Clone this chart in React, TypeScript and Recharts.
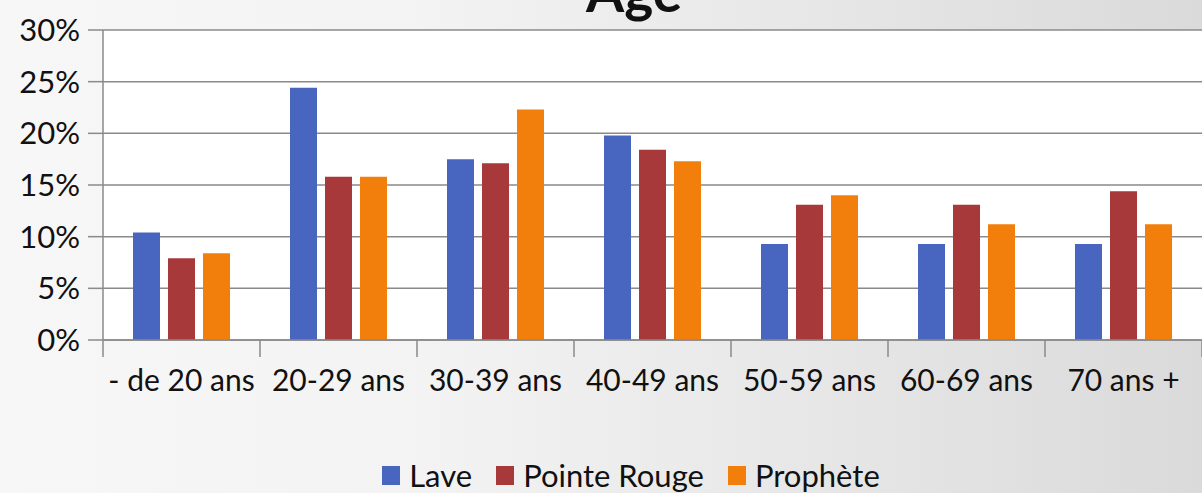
import React from 'react';
import { BarChart, Bar, XAxis, YAxis, CartesianGrid, Legend } from 'recharts';

const categories = ['- de 20 ans', '20-29 ans', '30-39 ans', '40-49 ans', '50-59 ans', '60-69 ans', '70 ans +'];
const lave = [10.4, 24.4, 17.5, 19.8, 9.3, 9.3, 9.3];
const pointeRouge = [7.9, 15.8, 17.1, 18.4, 13.1, 13.1, 14.4];
const prophete = [8.4, 15.8, 22.3, 17.3, 14.0, 11.2, 11.2];
const yTicks = [0, 5, 10, 15, 20, 25, 30];
const seriesNames = ['Lave', 'Pointe Rouge', 'Prophète'];

const data = categories.map((c, i) => ({
  cat: c,
  lave: lave[i],
  pointeRouge: pointeRouge[i],
  prophete: prophete[i],
}));

const FONT = 'Lato, "Noto Sans", sans-serif';
const AXIS = '#8a8a8a';

const XTick = (props: any) => {
  const { x, y, payload, index, visibleTicksCount, width } = props;
  const count = visibleTicksCount || categories.length;
  const bw = width && count ? width / count : 157;
  return (
    <g>
      <line x1={x - bw / 2} y1={y} x2={x - bw / 2} y2={y + 17} stroke={AXIS} strokeWidth={1.5} />
      {index === count - 1 && (
        <line x1={x + bw / 2} y1={y} x2={x + bw / 2} y2={y + 17} stroke={AXIS} strokeWidth={1.5} />
      )}
      <text x={x} y={y + 51} textAnchor="middle" fontSize={30} fill="#111" fontFamily={FONT}>
        {payload.value}
      </text>
    </g>
  );
};

const LegendContent = (props: any) => {
  const { payload } = props;
  return (
    <div style={{ display: 'flex', justifyContent: 'center', alignItems: 'center', fontFamily: FONT, fontSize: 31, color: '#111' }}>
      {(payload || []).map((p: any, i: number) => (
        <div key={i} style={{ display: 'flex', alignItems: 'center', marginRight: i < payload.length - 1 ? 24 : 0 }}>
          <span style={{ display: 'inline-block', width: 18, height: 19, background: p.color, marginRight: 9 }} />
          <span>{p.value}</span>
        </div>
      ))}
    </div>
  );
};

export default function App() {
  return (
    <div
      style={{
        position: 'absolute',
        left: 0,
        top: 0,
        width: 1202,
        height: 493,
        overflow: 'hidden',
        background: 'linear-gradient(to right, #f7f7f7 0%, #f3f3f3 35%, #e6e6e6 70%, #dadada 100%)',
        fontFamily: FONT,
      }}
    >
      <div
        style={{
          position: 'absolute',
          left: 0,
          width: 1268,
          top: -42,
          textAlign: 'center',
          fontFamily: FONT,
          fontWeight: 700,
          fontSize: 55,
          lineHeight: '66px',
          color: '#111',
        }}
      >
        Age
      </div>
      <BarChart
        width={1202}
        height={493}
        data={data}
        margin={{ top: 30, right: 0, left: 0, bottom: 83 }}
        barGap={8}
        barSize={27}
      >
        <CartesianGrid vertical={false} stroke={AXIS} strokeWidth={1.5} fill="#ffffff" />
        <XAxis
          dataKey="cat"
          height={70}
          interval={0}
          tickSize={0}
          tickMargin={0}
          tickLine={false}
          axisLine={{ stroke: AXIS, strokeWidth: 1.5 }}
          tick={<XTick />}
        />
        <YAxis
          width={103}
          domain={[0, 30]}
          ticks={yTicks}
          interval={0}
          tickFormatter={(v: number) => `${v}%`}
          tickSize={15}
          tickMargin={8}
          axisLine={{ stroke: AXIS, strokeWidth: 1.5 }}
          tickLine={{ stroke: AXIS, strokeWidth: 1.5 }}
          tick={{ fontSize: 31, fill: '#111', fontFamily: FONT }}
        />
        <Legend
          verticalAlign="middle"
          layout="horizontal"
          align="center"
          wrapperStyle={{ top: 456, left: 0, width: 1262 }}
          content={<LegendContent />}
        />
        <Bar dataKey="lave" name={seriesNames[0]} fill="#4866c0" isAnimationActive={false} />
        <Bar dataKey="pointeRouge" name={seriesNames[1]} fill="#a8393b" isAnimationActive={false} />
        <Bar dataKey="prophete" name={seriesNames[2]} fill="#f27f0c" isAnimationActive={false} />
      </BarChart>
    </div>
  );
}
